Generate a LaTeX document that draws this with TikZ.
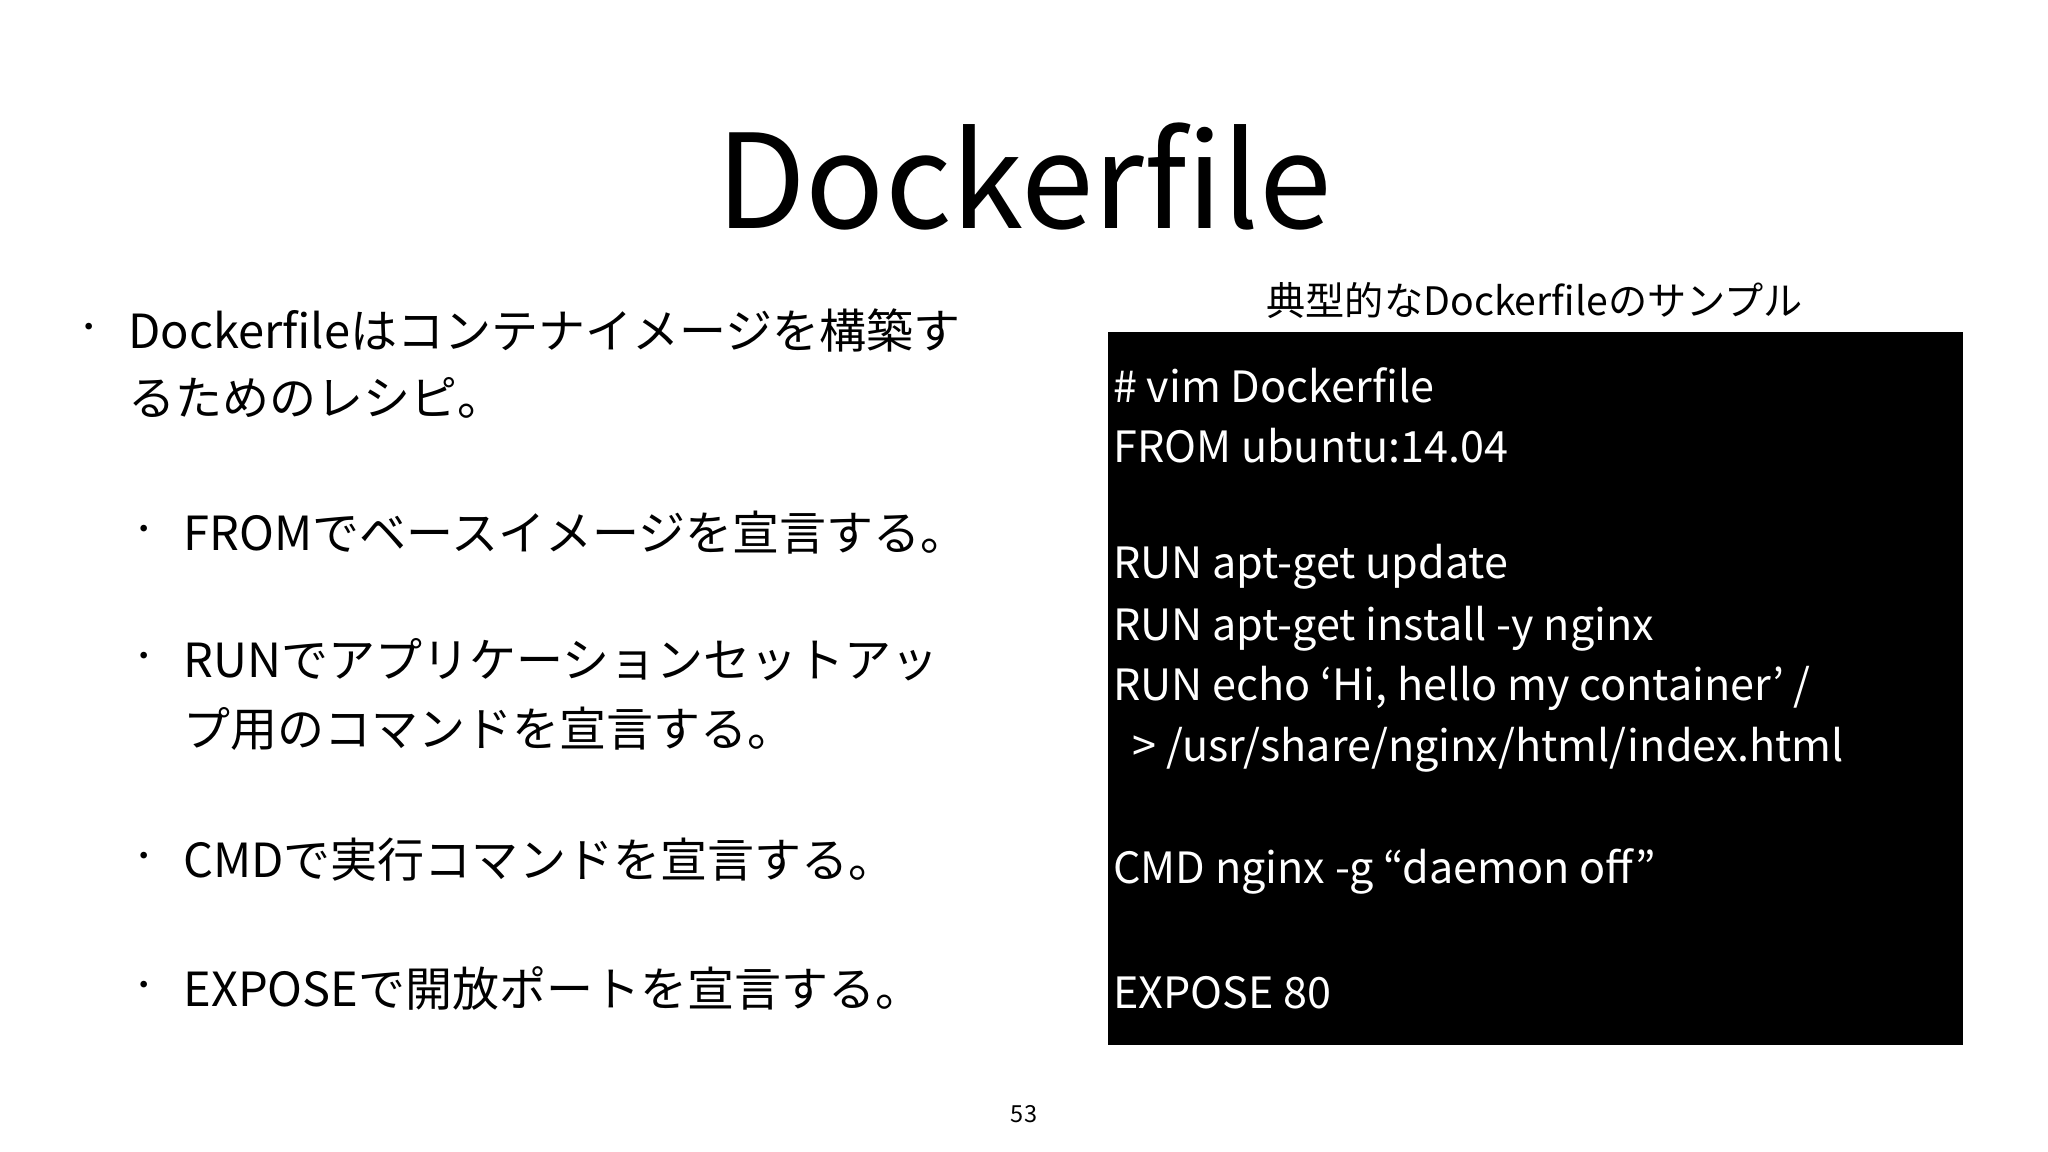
\documentclass[tikz,border=0pt]{standalone}
\usepackage{fontspec}
\setmainfont{Noto Sans CJK JP}
\begin{document}
\begin{tikzpicture}[x=0.5pt,y=-0.5pt,
  bul/.style={anchor=west,font=\fontsize{18}{22}\selectfont,inner sep=0},
  code/.style={anchor=west,font=\fontsize{16.5}{20}\selectfont,text=white,inner sep=0},
  dot/.style={anchor=center,font=\fontsize{12}{14}\selectfont,inner sep=0}]
\useasboundingbox (0,0) rectangle (1568,882);
\node[font=\fontsize{50}{60}\selectfont] (title) at (784,135) {Dockerfile};
\node[dot] (d1) at (68,253) {・};
\node[bul] (b1a) at (98,253) {Dockerfileはコンテナイメージを構築す};
\node[bul] (b1b) at (98,305) {るためのレシピ。};
\node[dot] (d2) at (110,408) {・};
\node[bul] (b2) at (140,408) {FROMでベースイメージを宣言する。};
\node[dot] (d3) at (110,505) {・};
\node[bul] (b3a) at (140,505) {RUNでアプリケーションセットアッ};
\node[bul] (b3b) at (140,558) {プ用のコマンドを宣言する。};
\node[dot] (d4) at (110,658) {・};
\node[bul] (b4) at (140,658) {CMDで実行コマンドを宣言する。};
\node[dot] (d5) at (110,757) {・};
\node[bul] (b5) at (140,757) {EXPOSEで開放ポートを宣言する。};
\node[font=\fontsize{15}{18}\selectfont] (cap) at (1175,230) {典型的なDockerfileのサンプル};
\fill[black] (848,254) rectangle (1503,800);
\node[code] (c1) at (852,295) {\# vim Dockerfile};
\node[code] (c2) at (852,341) {FROM ubuntu:14.04};
\node[code] (c3) at (852,434) {RUN apt-get update};
\node[code] (c4) at (852,481) {RUN apt-get install -y nginx};
\node[code] (c5) at (852,527) {RUN echo ‘Hi, hello my container’ /};
\node[code] (c6) at (852,574) {\ \ > /usr/share/nginx/html/index.html};
\node[code] (c7) at (852,667) {CMD nginx -g “daemon off”};
\node[code] (c8) at (852,760) {EXPOSE 80};
\node[font=\fontsize{9}{11}\selectfont] (pg) at (784,853) {53};
\end{tikzpicture}
\end{document}
